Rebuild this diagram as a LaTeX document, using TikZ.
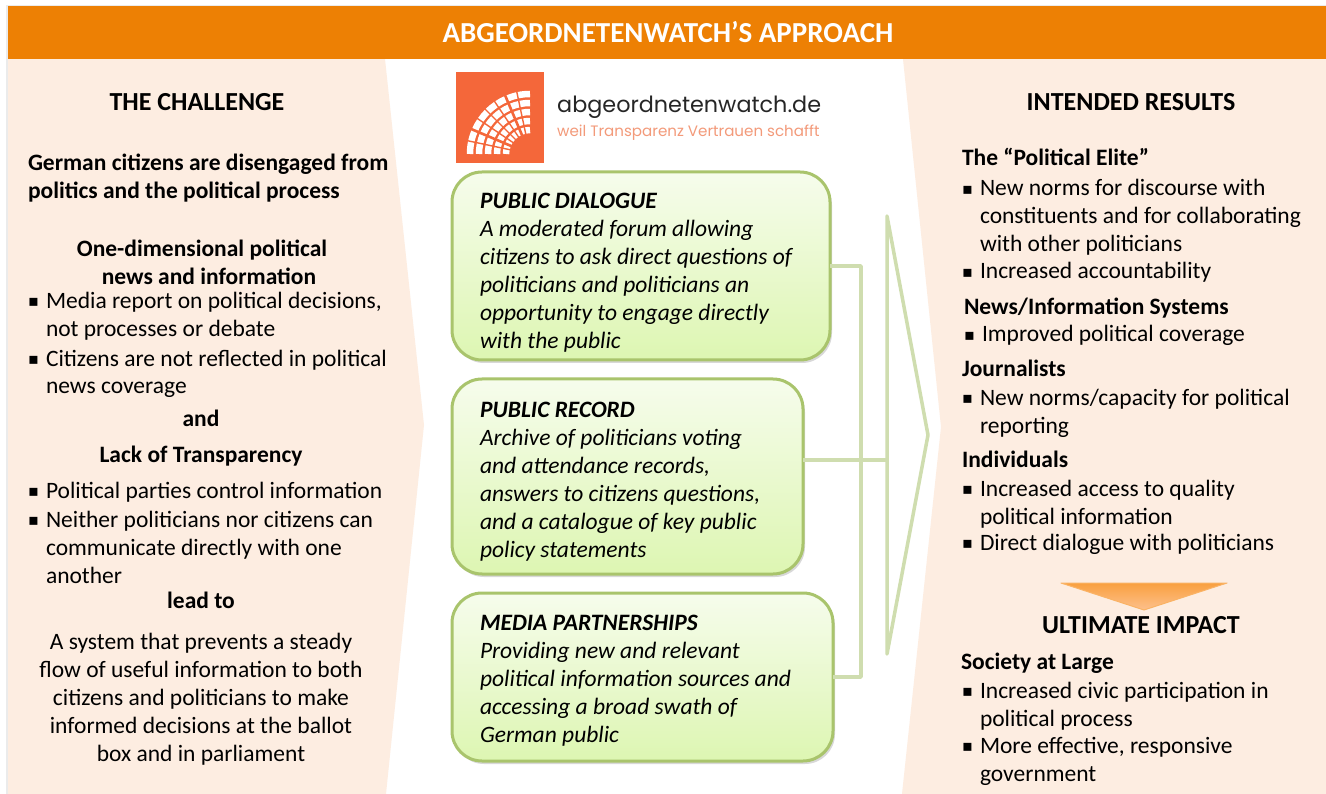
\documentclass[tikz,border=0pt]{standalone}
\usepackage{fontspec}
\setmainfont{Carlito}
\newfontfamily\logofont{Poppins}
\newfontfamily\bulletfont{DejaVu Sans}
\usetikzlibrary{shadows,calc}
\definecolor{hdr}{HTML}{ED8004}
\definecolor{peach}{HTML}{FDEDE1}
\definecolor{boxline}{HTML}{A9C46C}
\definecolor{boxtop}{HTML}{F6FCEC}
\definecolor{boxbot}{HTML}{DDF6B2}
\definecolor{conn}{HTML}{CFDDAF}
\definecolor{logoor}{HTML}{F4673A}
\definecolor{logosub}{HTML}{F39A7A}
\definecolor{arrowtop}{HTML}{F9A03F}
\definecolor{arrowbot}{HTML}{FDC08C}
\newcommand{\bodyfs}{\fontsize{23.5}{28}\selectfont}
\newcommand{\headfs}{\fontsize{26}{28}\selectfont\bfseries}
\newcommand{\bl}{\strut}
\tikzset{
  x=1pt,y=-1pt,
  panel/.style={fill=peach,draw=none},
  txt/.style={inner sep=0pt,outer sep=0pt,anchor=north west,align=left,font=\bodyfs},
  ctr/.style={inner sep=0pt,outer sep=0pt,anchor=north,align=center,font=\bodyfs},
  head/.style={inner sep=0pt,outer sep=0pt,anchor=north,align=center,font=\headfs},
  sub/.style={txt,font=\bodyfs\bfseries},
  bulletmark/.style={inner sep=0pt,outer sep=0pt,anchor=north west,font=\bodyfs},
  greenbox/.style={draw=boxline,line width=3pt,rounded corners=30pt,top color=boxtop,bottom color=boxbot,
     inner sep=0pt,outer sep=0pt,anchor=north west,
     drop shadow={shadow xshift=2pt,shadow yshift=-3pt,opacity=.25,fill=black!60}},
  link/.style={draw=conn,line width=3.5pt,line join=round},
}
\newcommand{\mybullet}[3]{\node[bulletmark] (#1) at (#2,#3-18.6) {\strut\raisebox{1.5pt}{\bulletfont\fontsize{16}{28}\selectfont ▪}};}
\newcommand{\boxbody}[4]{\parbox[c][#1pt][t]{#2pt}{\raggedright\bodyfs\itshape\vspace*{#3pt}#4}}
\begin{document}
\begin{tikzpicture}
\useasboundingbox (0,0) rectangle (1326,794);
\fill[white] (0,0) rectangle (1326,794);
% panels
\fill[black!8] (6,5) rectangle (1326,794);
\fill[white] (8,59) rectangle (1326,794);
\path[panel] (8,59) -- (385,59) -- (424,425) -- (386,794) -- (8,794) -- cycle;
\path[panel] (903,59) -- (1326,59) -- (1326,794) -- (902,794) -- (941,427) -- cycle;
\fill[hdr] (8,6) rectangle (1326,59);
\node[inner sep=0pt,anchor=base,text=white,font=\fontsize{29}{30}\selectfont\bfseries] (title) at (668,43) {ABGEORDNETENWATCH’S APPROACH};
% logo
\fill[logoor] (456,72) rectangle (544,163);
\begin{scope}
\clip (462,78) rectangle (538,156);
\foreach \r in {24,33,42,51,60}
  \draw[white,line width=6.5pt] (530,154) ++(180:\r) arc[start angle=180,end angle=270,radius=\r];
\foreach \a in {102,124,135,146,168}
  \draw[logoor,line width=1.4pt] (530,154) -- ++({180+\a-90}:72);
\foreach \a in {113,157}
  \draw[logoor,line width=2.6pt] (530,154) -- ++({180+\a-90}:72);
\end{scope}
\node[inner sep=0pt,anchor=base west,font=\logofont\fontsize{22.3}{28}\selectfont,text=black!85] (logoname) at (557,113) {abgeordnetenwatch.de};
\node[inner sep=0pt,anchor=base west,font=\logofont\fontsize{15.1}{18}\selectfont,text=logosub] (logosub) at (557,137) {weil Transparenz Vertrauen schafft};
% left column
\node[head] (lh) at (197,110-18.6) {\bl THE CHALLENGE};
\node[sub] (l1) at (28,170-18.6) {\bl German citizens are disengaged from\\politics and the political process};
\node[ctr,font=\bodyfs\bfseries] (l2) at (202,255.5-18.6) {\bl One-dimensional political\\\hspace*{14pt}news and information};
\mybullet{lb1}{28}{307.5}
\node[txt] (l3) at (46,307.5-18.6) {\bl Media report on political decisions,\\not processes or debate};
\mybullet{lb2}{28}{365}
\node[txt] (l4) at (46,365-18.6) {\bl Citizens are not reflected in political\\news coverage};
\node[ctr,font=\bodyfs\bfseries] (l5) at (201,425-18.6) {\bl and};
\node[ctr,font=\bodyfs\bfseries] (l6) at (201,461-18.6) {\bl Lack of Transparency};
\mybullet{lb3}{28}{497}
\node[txt] (l7) at (46,497-18.6) {\bl Political parties control information};
\mybullet{lb4}{28}{526}
\node[txt] (l8) at (46,526-18.6) {\bl Neither politicians nor citizens can\\communicate directly with one\\another};
\node[ctr,font=\bodyfs\bfseries] (l9) at (201,607-18.6) {\bl lead to};
\node[ctr] (l10) at (201,648-18.6) {\bl A system that prevents a steady\\flow of useful information to both\\citizens and politicians to make\\informed decisions at the ballot\\box and in parliament};
% middle boxes
\node[greenbox,minimum width=378pt,minimum height=188pt] (box1) at (452,172) {\boxbody{188}{322}{17.4}{\strut\textbf{PUBLIC DIALOGUE}\\A moderated forum allowing\\citizens to ask direct questions of\\politicians and politicians an\\opportunity to engage directly\\with the public}};
\node[greenbox,minimum width=351pt,minimum height=195pt] (box2) at (452,379) {\boxbody{195}{295}{18.4}{\strut\textbf{PUBLIC RECORD}\\Archive of politicians voting\\and attendance records,\\answers to citizens questions,\\and a catalogue of key public\\policy statements}};
\node[greenbox,minimum width=381pt,minimum height=168pt] (box3) at (452,593) {\boxbody{168}{325}{17.4}{\strut\textbf{MEDIA PARTNERSHIPS}\\Providing new and relevant\\political information sources and\\accessing a broad swath of\\German public}};
% connectors
\coordinate (triTop) at (887,216);
\coordinate (triBot) at (887,654);
\coordinate (triTip) at (928,435);
\coordinate (triIn) at (887,460);
\coordinate (busTop) at (861,266);
\coordinate (busBot) at (861,677);
\draw[link] (box1.east) -- (busTop) -- (busBot) -- (box3.east);
\draw[link] ([yshift=16.5pt]box2.east) -- (triIn);
\draw[link] (triTop) -- (triBot) -- (triTip) -- cycle;
% right column
\node[head] (rh) at (1131,110-18.6) {\bl INTENDED RESULTS};
\node[sub] (r1) at (962,165-18.6) {\bl The “Political Elite”};
\mybullet{rb1}{962}{195}
\node[txt] (r2) at (980,195-18.6) {\bl New norms for discourse with\\constituents and for collaborating\\with other politicians};
\mybullet{rb2}{962}{278}
\node[txt] (r3) at (980,278-18.6) {\bl Increased accountability};
\node[sub] (r4) at (964,314-18.6) {\bl News/Information Systems};
\mybullet{rb3}{964}{341}
\node[txt] (r5) at (982,341-18.6) {\bl Improved political coverage};
\node[sub] (r6) at (962,376-18.6) {\bl Journalists};
\mybullet{rb4}{962}{404}
\node[txt] (r7) at (980,404-18.6) {\bl New norms/capacity for political\\reporting};
\node[sub] (r8) at (962,466-18.6) {\bl Individuals};
\mybullet{rb5}{962}{495}
\node[txt] (r9) at (980,495-18.6) {\bl Increased access to quality\\political information};
\mybullet{rb6}{962}{549}
\node[txt] (r10) at (980,549-18.6) {\bl Direct dialogue with politicians};
\shade[top color=arrowtop,bottom color=arrowbot,draw=arrowtop!80!white,line width=1pt,line join=round] (1061,583) -- (1227,583) -- (1144,610) -- cycle;
\node[head] (rh2) at (1141,632-18.6) {\bl ULTIMATE IMPACT};
\node[sub] (r11) at (961,668-18.6) {\bl Society at Large};
\mybullet{rb7}{962}{697}
\node[txt] (r12) at (980,697-18.6) {\bl Increased civic participation in\\political process};
\mybullet{rb8}{962}{752}
\node[txt] (r13) at (980,752-18.6) {\bl More effective, responsive\\government};
\end{tikzpicture}
\end{document}
